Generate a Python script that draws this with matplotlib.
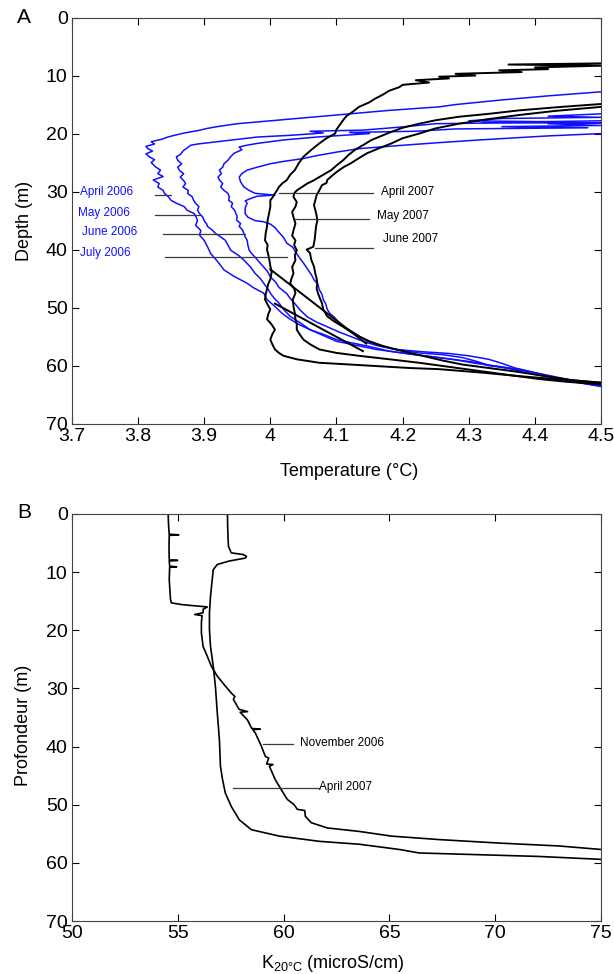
import matplotlib
matplotlib.use("Agg")
import matplotlib.pyplot as plt

plt.rcParams['font.family'] = ['Liberation Sans', 'DejaVu Sans']
plt.rcParams['mathtext.default'] = 'regular'

# ---- panel A : temperature profiles (depth m, temperature degC) ----
apr06 = [(12.8, 4.50), (13.5, 4.42), (14.2, 4.35), (15.0, 4.28), (15.4, 4.255), (16.0, 4.18), (16.6, 4.12),
         (17.1, 4.07), (17.6, 4.02), (18.3, 3.95), (18.8, 3.92), (19.1, 3.905), (19.5, 3.89), (19.9, 3.87),
         (20.3, 3.855), (20.6, 3.845), (21.0, 3.835), (21.4, 3.82), (21.8, 3.825), (22.2, 3.812), (22.6, 3.815),
         (23.0, 3.822), (23.5, 3.812), (24.0, 3.817), (24.5, 3.825), (25.0, 3.82), (25.7, 3.826), (26.3, 3.834),
         (26.9, 3.83), (27.4, 3.838), (28.0, 3.823), (28.6, 3.832), (29.2, 3.83), (29.8, 3.838), (30.3, 3.84),
         (30.9, 3.846), (31.5, 3.85), (32.0, 3.858), (32.6, 3.87), (33.2, 3.874), (33.8, 3.885), (34.4, 3.888),
         (35.0, 3.89), (35.8, 3.887), (36.7, 3.895), (37.5, 3.893), (38.4, 3.9), (39.5, 3.905), (40.7, 3.91),
         (42.0, 3.92), (43.5, 3.93), (44.6, 3.945), (45.8, 3.965), (46.6, 3.975), (47.5, 3.99), (48.6, 3.995),
         (49.8, 4.007), (51.0, 4.018), (52.0, 4.03), (53.0, 4.045), (53.8, 4.06), (54.6, 4.08), (55.5, 4.10),
         (56.0, 4.12), (56.6, 4.146), (57.5, 4.18), (58.0, 4.21), (58.6, 4.255), (59.5, 4.315), (60.0, 4.33),
         (60.6, 4.376), (61.5, 4.41), (62.3, 4.436), (63.0, 4.47), (63.5, 4.50)]

may06 = [(16.6, 4.50), (17.0, 4.42), (17.2, 4.50), (17.4, 4.35), (17.8, 4.30), (18.0, 4.45), (18.3, 4.25),
         (18.9, 4.195), (19.4, 4.14), (19.6, 4.06), (19.9, 4.08), (20.3, 4.03), (20.6, 3.98), (21.0, 3.95),
         (21.4, 3.92), (21.8, 3.89), (22.0, 3.88), (22.4, 3.875), (23.0, 3.868), (23.6, 3.864), (24.0, 3.858),
         (24.6, 3.86), (25.2, 3.866), (25.8, 3.86), (26.4, 3.863), (26.9, 3.869), (27.5, 3.864), (28.1, 3.869),
         (28.6, 3.872), (29.2, 3.868), (29.8, 3.876), (30.3, 3.875), (30.9, 3.882), (31.5, 3.884), (32.0, 3.887),
         (32.6, 3.892), (33.2, 3.89), (33.8, 3.893), (34.4, 3.898), (35.0, 3.9), (35.6, 3.904), (36.0, 3.905),
         (36.6, 3.912), (37.2, 3.917), (37.8, 3.925), (38.4, 3.932), (39.2, 3.936), (40.1, 3.94), (41.0, 3.952),
         (41.8, 3.96), (43.0, 3.97), (44.1, 3.977), (45.0, 3.985), (45.8, 3.99), (46.7, 3.996), (47.5, 4.0),
         (48.4, 4.006), (49.2, 4.013), (50.3, 4.02), (51.5, 4.03), (52.6, 4.045), (53.8, 4.06), (54.8, 4.08),
         (55.8, 4.10), (56.5, 4.13), (57.2, 4.16), (57.8, 4.20), (58.4, 4.24), (59.0, 4.28), (59.6, 4.31),
         (60.2, 4.35), (61.0, 4.39), (61.8, 4.42), (62.6, 4.46), (63.3, 4.50)]

jun06 = [(17.8, 4.50), (18.1, 4.32), (18.2, 4.50), (18.3, 4.42), (18.6, 4.50), (18.8, 4.35), (19.0, 4.48),
         (19.2, 4.28), (19.6, 4.22), (19.8, 4.12), (20.0, 4.15), (20.6, 4.07), (21.1, 4.02), (21.7, 3.98),
         (22.0, 3.965), (22.3, 3.953), (22.8, 3.957), (23.4, 3.945), (24.0, 3.94), (24.6, 3.936), (25.2, 3.93),
         (25.8, 3.928), (26.3, 3.923), (26.9, 3.926), (27.5, 3.921), (28.0, 3.923), (28.6, 3.928), (29.2, 3.925),
         (29.8, 3.93), (30.3, 3.936), (30.9, 3.938), (31.5, 3.937), (32.0, 3.943), (32.6, 3.941), (33.2, 3.946),
         (33.8, 3.948), (34.3, 3.95), (34.9, 3.949), (35.5, 3.955), (36.0, 3.953), (36.6, 3.958), (37.2, 3.96),
         (37.8, 3.962), (38.4, 3.965), (39.2, 3.966), (40.1, 3.968), (40.7, 3.972), (41.3, 3.977), (42.1, 3.983),
         (43.0, 3.99), (43.8, 3.996), (44.7, 4.0), (45.6, 4.008), (46.5, 4.013), (47.6, 4.025), (48.4, 4.03),
         (49.3, 4.037), (50.4, 4.045), (51.6, 4.056), (52.5, 4.07), (53.3, 4.086), (54.2, 4.104), (55.0, 4.122),
         (55.8, 4.14), (56.5, 4.16), (57.2, 4.19), (57.6, 4.23), (57.9, 4.27), (58.3, 4.30), (58.9, 4.33),
         (59.6, 4.35), (60.4, 4.37), (61.2, 4.40), (61.9, 4.43), (62.6, 4.46), (63.4, 4.50)]

jul06 = [(20.0, 4.50), (20.4, 4.42), (20.8, 4.36), (21.1, 4.316), (21.6, 4.25), (22.1, 4.19), (22.6, 4.134),
         (23.2, 4.10), (23.8, 4.07), (24.3, 4.05), (24.8, 4.02), (25.2, 4.0), (25.8, 3.98), (26.3, 3.965),
         (26.9, 3.957), (27.5, 3.953), (28.3, 3.955), (29.2, 3.96), (29.8, 3.968), (30.3, 3.977), (30.6, 4.007),
         (30.8, 3.98), (31.2, 3.97), (31.6, 3.962), (32.0, 3.965), (32.8, 3.962), (33.8, 3.962), (34.4, 3.966),
         (35.0, 3.977), (35.2, 3.99), (35.6, 4.0), (36.2, 4.007), (37.0, 4.013), (37.9, 4.02), (38.9, 4.025),
         (39.6, 4.034), (40.4, 4.038), (41.4, 4.044), (42.3, 4.05), (43.3, 4.056), (44.3, 4.062), (45.2, 4.066),
         (46.0, 4.072), (46.9, 4.074), (47.7, 4.078), (48.6, 4.08), (49.4, 4.084), (50.3, 4.086), (51.0, 4.09),
         (51.8, 4.098), (52.6, 4.104), (53.5, 4.115), (54.2, 4.125), (54.9, 4.134), (55.7, 4.145), (56.6, 4.165),
         (57.2, 4.19), (57.8, 4.225), (58.1, 4.26), (58.6, 4.29), (59.2, 4.31), (59.9, 4.33), (60.6, 4.364),
         (61.5, 4.40), (62.3, 4.436), (63.0, 4.47), (63.6, 4.50)]

apr07 = [(7.9, 4.50), (8.1, 4.36), (8.3, 4.50), (8.6, 4.40), (8.9, 4.42), (9.1, 4.346), (9.4, 4.38), (9.7, 4.28),
         (10.0, 4.31), (10.2, 4.255), (10.5, 4.27), (10.8, 4.22), (11.2, 4.24), (11.6, 4.20), (12.0, 4.195),
         (12.6, 4.18), (13.3, 4.17), (14.0, 4.158), (14.6, 4.15), (15.4, 4.134), (16.2, 4.125), (17.0, 4.115),
         (17.7, 4.11), (18.5, 4.105), (19.3, 4.10), (20.0, 4.098), (20.8, 4.085), (21.7, 4.074), (22.8, 4.062),
         (24.0, 4.05), (25.1, 4.043), (26.3, 4.037), (27.1, 4.03), (28.0, 4.025), (28.6, 4.018), (29.2, 4.013),
         (29.8, 4.01), (30.3, 4.007), (30.9, 4.004), (31.5, 4.0), (32.6, 4.0), (33.8, 3.998), (34.9, 3.996),
         (36.0, 3.995), (37.2, 3.993), (38.4, 3.992), (39.2, 3.996), (40.0, 3.995), (41.4, 3.998), (42.8, 4.0),
         (43.9, 4.002), (45.1, 4.0), (45.9, 3.997), (46.8, 3.995), (47.7, 3.993), (48.6, 3.992), (49.5, 3.996),
         (50.3, 4.0), (51.1, 3.997), (52.0, 3.995), (52.9, 4.002), (53.8, 4.007), (54.6, 4.003), (55.5, 4.0),
         (56.3, 4.003), (57.2, 4.007), (57.8, 4.013), (58.3, 4.02), (58.9, 4.04), (59.5, 4.074), (59.8, 4.12),
         (60.1, 4.165), (60.4, 4.21), (60.6, 4.255), (61.2, 4.32), (61.8, 4.376), (62.4, 4.44), (62.9, 4.50)]

may07 = [(14.9, 4.50), (15.4, 4.44), (16.0, 4.376), (16.6, 4.33), (17.1, 4.285), (17.7, 4.25), (18.3, 4.225),
         (19.0, 4.20), (19.7, 4.183), (20.4, 4.168), (21.1, 4.153), (22.0, 4.14), (22.8, 4.128), (23.7, 4.118),
         (24.6, 4.11), (25.5, 4.10), (26.3, 4.092), (26.9, 4.083), (27.5, 4.074), (28.1, 4.065), (28.6, 4.056),
         (29.2, 4.048), (29.8, 4.04), (30.3, 4.036), (30.9, 4.035), (31.8, 4.04), (32.6, 4.038), (33.5, 4.033),
         (34.4, 4.035), (35.5, 4.038), (36.7, 4.035), (37.6, 4.033), (38.4, 4.038), (39.2, 4.036), (40.1, 4.04),
         (41.0, 4.037), (41.8, 4.038), (43.0, 4.033), (44.1, 4.035), (45.0, 4.032), (45.8, 4.03), (46.7, 4.036),
         (47.5, 4.038), (48.6, 4.034), (49.8, 4.035), (50.9, 4.037), (52.0, 4.038), (52.9, 4.04), (53.8, 4.04),
         (54.7, 4.045), (55.5, 4.05), (56.3, 4.06), (57.2, 4.074), (57.8, 4.10), (58.3, 4.134), (58.9, 4.18),
         (59.5, 4.225), (60.2, 4.27), (60.9, 4.315), (61.6, 4.36), (62.3, 4.406), (62.8, 4.45), (63.2, 4.50)]

jun07 = [(15.4, 4.50), (16.1, 4.43), (16.8, 4.376), (17.5, 4.33), (18.3, 4.285), (19.1, 4.25), (20.0, 4.225),
         (20.8, 4.20), (21.7, 4.183), (22.5, 4.165), (23.4, 4.146), (24.3, 4.133), (25.1, 4.122), (25.7, 4.112),
         (26.3, 4.104), (27.1, 4.095), (28.0, 4.086), (28.5, 4.085), (28.9, 4.078), (29.8, 4.074), (30.6, 4.07),
         (31.5, 4.068), (32.3, 4.066), (33.2, 4.068), (34.1, 4.07), (35.0, 4.071), (36.1, 4.069), (37.2, 4.068),
         (38.3, 4.067), (39.5, 4.065), (40.0, 4.055), (40.6, 4.06), (41.8, 4.062), (42.9, 4.066), (44.1, 4.068),
         (45.0, 4.07), (45.8, 4.071), (46.7, 4.07), (47.5, 4.072), (48.4, 4.075), (49.2, 4.078), (50.3, 4.08),
         (51.5, 4.086), (52.4, 4.097), (53.3, 4.11), (54.2, 4.122), (55.0, 4.135), (55.8, 4.15), (56.6, 4.17),
         (57.5, 4.20), (58.3, 4.23), (59.1, 4.26), (59.8, 4.29), (60.4, 4.33), (61.0, 4.37), (61.7, 4.41),
         (62.4, 4.45), (63.0, 4.50)]

# straight segments where 2007 casts skip data
gap_a = [(43.4, 4.0), (56.2, 4.145)]
gap_b = [(49.3, 4.007), (57.5, 4.14)]

blue_names = ['April 2006', 'May 2006', 'June 2006', 'July 2006']
black_names = ['April 2007', 'May 2007', 'June 2007']
# label anchor (temp, depth) and leader line (t0, t1, depth)
blue_label_pos = [(3.713, 30.0), (3.709, 33.7), (3.716, 36.9), (3.713, 40.5)]
blue_leaders = [(3.826, 3.85, 30.6), (3.826, 3.893, 34.0), (3.838, 3.962, 37.3), (3.841, 4.025, 41.2)]
black_label_pos = [(4.167, 30.0), (4.161, 34.2), (4.170, 38.2)]
black_leaders = [(4.013, 4.155, 30.3), (4.038, 4.149, 34.8), (4.068, 4.155, 39.7)]

# ---- panel B : conductivity profiles (depth m, K20 microS/cm) ----
nov06 = [(0.0, 54.55), (2.0, 54.57), (3.5, 54.6), (3.6, 55.05), (3.7, 54.6), (5.6, 54.59), (7.9, 54.6),
         (8.0, 55.0), (8.1, 54.6), (9.0, 54.62), (9.1, 54.95), (9.2, 54.62), (11.3, 54.6), (13.0, 54.63),
         (14.7, 54.66), (15.3, 54.7), (15.6, 55.2), (15.8, 55.8), (16.0, 56.4), (16.4, 56.2), (17.0, 56.2),
         (17.3, 55.8), (17.5, 56.15), (18.7, 56.12), (20.5, 56.12), (22.8, 56.2), (24.5, 56.4), (26.2, 56.59),
         (27.9, 56.87), (29.6, 57.25), (30.8, 57.53), (31.4, 57.7), (31.9, 57.63), (33.6, 57.9), (34.0, 58.3),
         (34.1, 57.95), (35.4, 58.29), (36.9, 58.5), (37.0, 58.9), (37.1, 58.55), (37.7, 58.67), (39.9, 58.95),
         (41.7, 59.14), (42.0, 59.3), (43.0, 59.2), (43.1, 59.5), (43.4, 59.33), (45.7, 59.61), (47.4, 59.89),
         (49.1, 60.18), (50.0, 60.5), (50.8, 60.65), (51.0, 61.0), (52.0, 61.03), (53.1, 61.31), (54.0, 62.07),
         (54.6, 63.58), (55.4, 65.09), (56.0, 67.35), (56.6, 70.19), (57.1, 73.02), (57.7, 75.0)]

apr07_k = [(0.0, 57.35), (2.0, 57.36), (4.4, 57.38), (5.6, 57.4), (6.7, 57.53), (7.0, 58.1), (7.3, 58.25),
           (7.6, 58.2), (8.1, 57.44), (8.7, 56.87), (9.6, 56.68), (11.3, 56.63), (14.2, 56.55), (17.0, 56.5),
           (19.9, 56.5), (22.8, 56.55), (26.2, 56.68), (29.6, 56.78), (34.2, 56.87), (38.8, 56.97), (43.4, 57.02),
           (45.7, 57.12), (48.0, 57.25), (50.3, 57.53), (52.6, 57.91), (54.3, 58.48), (55.4, 59.8), (56.3, 61.69),
           (56.8, 63.58), (57.7, 65.47), (58.3, 66.4), (58.6, 69.24), (58.9, 72.07), (59.4, 75.0)]

k_names = ['November 2006', 'April 2007']
k_label_pos = [(60.78, 39.4), (61.69, 46.9)]
k_leaders = [(59.04, 60.46, 39.5), (57.63, 61.69, 47.1)]

BLUE = '#1010ff'
LEAD = '#3a3a3a'

fig = plt.figure(figsize=(6.14, 9.74), dpi=100)
ax1 = fig.add_axes([0.117, 0.565, 0.862, 0.417])
ax2 = fig.add_axes([0.117, 0.0544, 0.862, 0.418])


def unzip(pairs):
    return [p[1] for p in pairs], [p[0] for p in pairs]


for prof in [apr06, may06, jun06, jul06]:
    t, d = unzip(prof)
    ax1.plot(t, d, color=BLUE, lw=1.1)
for prof in [apr07, may07, jun07, gap_a, gap_b]:
    t, d = unzip(prof)
    ax1.plot(t, d, color='black', lw=1.4)

for name, (tx, ty), (l0, l1, ld) in zip(blue_names, blue_label_pos, blue_leaders):
    ax1.plot([l0, l1], [ld, ld], color=LEAD, lw=0.9)
    ax1.text(tx, ty, name, color=BLUE, fontsize=8.5, va='center', ha='left')
for name, (tx, ty), (l0, l1, ld) in zip(black_names, black_label_pos, black_leaders):
    ax1.plot([l0, l1], [ld, ld], color=LEAD, lw=0.9)
    ax1.text(tx, ty, name, color='black', fontsize=8.5, va='center', ha='left')

ax1.set_xlim(3.7, 4.5)
ax1.set_ylim(70, 0)
ax1.set_xticks([3.7, 3.8, 3.9, 4.0, 4.1, 4.2, 4.3, 4.4, 4.5])
ax1.set_xticklabels(['3.7', '3.8', '3.9', '4', '4.1', '4.2', '4.3', '4.4', '4.5'])
ax1.set_yticks(range(0, 71, 10))
ax1.set_xlabel('Temperature (°C)', fontsize=13)
ax1.set_ylabel('Depth (m)', fontsize=13)
ax1.xaxis.set_label_coords(0.524, -0.097)
ax1.yaxis.set_label_coords(-0.074, 0.5)
fig.text(0.028, 0.982, 'A', fontsize=15, va='center', ha='left')

for prof in [nov06, apr07_k]:
    k, d = unzip(prof)
    ax2.plot(k, d, color='black', lw=1.2)
for name, (tx, ty), (l0, l1, ld) in zip(k_names, k_label_pos, k_leaders):
    ax2.plot([l0, l1], [ld, ld], color=LEAD, lw=0.9)
    ax2.text(tx, ty, name, color='black', fontsize=8.5, va='center', ha='left')

ax2.set_xlim(50, 75)
ax2.set_ylim(70, 0)
ax2.set_xticks(range(50, 76, 5))
ax2.set_yticks(range(0, 71, 10))
ax2.set_xlabel('K$_{20°C}$ (microS/cm)', fontsize=13)
ax2.set_ylabel('Profondeur (m)', fontsize=13)
ax2.xaxis.set_label_coords(0.494, -0.078)
ax2.yaxis.set_label_coords(-0.076, 0.48)
fig.text(0.028, 0.474, 'B', fontsize=15, va='center', ha='left')

for ax in [ax1, ax2]:
    ax.tick_params(direction='in', top=True, right=True, labelsize=14, length=5, width=0.8, pad=3)
    for s in ax.spines.values():
        s.set_linewidth(0.8)
        s.set_color('#444444')

fig.savefig('out.png', dpi=100)
